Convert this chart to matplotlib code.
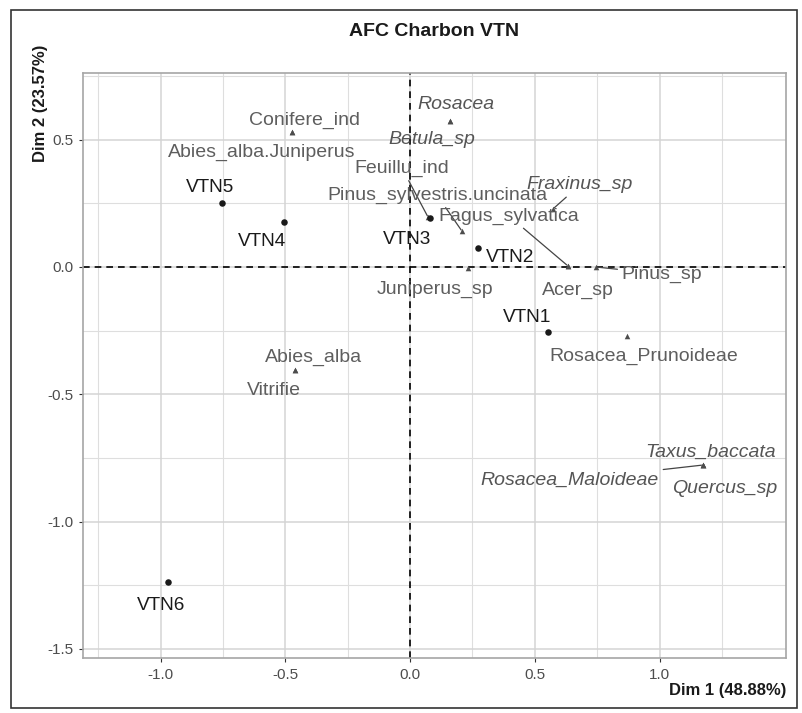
import matplotlib
matplotlib.use("Agg")
import matplotlib.pyplot as plt
from matplotlib.patches import Rectangle

plt.rcParams['font.family'] = ['Liberation Sans', 'DejaVu Sans']

# ---- data ----
row_names = ["VTN1", "VTN2", "VTN3", "VTN4", "VTN5", "VTN6"]
row_dim1 = [0.553, 0.273, 0.080, -0.505, -0.754, -0.970]
row_dim2 = [-0.255, 0.075, 0.193, 0.177, 0.251, -1.238]

col_names = ["Conifere_ind", "Abies_alba.Juniperus", "Rosacea", "Betula_sp",
             "Feuillu_ind", "Pinus_sylvestris.uncinata", "Fagus_sylvatica",
             "Acer_sp", "Fraxinus_sp", "Pinus_sp", "Juniperus_sp",
             "Rosacea_Prunoideae", "Abies_alba", "Vitrifie", "Taxus_baccata",
             "Quercus_sp", "Rosacea_Maloideae"]
col_dim1 = [-0.473, -0.473, 0.160, 0.160, 0.072, 0.208, 0.633, 0.633, 0.573,
            0.745, 0.232, 0.870, -0.461, -0.461, 1.174, 1.174, 1.174]
col_dim2 = [0.530, 0.530, 0.574, 0.574, 0.196, 0.141, 0.004, 0.004, 0.228,
            0.000, -0.004, -0.271, -0.405, -0.405, -0.778, -0.778, -0.778]
col_italic = [False, False, True, True, False, False, False, False, True,
              False, False, False, False, False, True, True, True]

xticks = [-1.0, -0.5, 0.0, 0.5, 1.0]
yticks = [-1.5, -1.0, -0.5, 0.0, 0.5]
title = "AFC Charbon VTN"
xlabel = "Dim 1 (48.88%)"
ylabel = "Dim 2 (23.57%)"

# ---- layout (label offsets in pixels, repel-like) ----
row_off = {"VTN1": (-21, 14), "VTN2": (32, -10), "VTN3": (-23, -22),
           "VTN4": (-22, -20), "VTN5": (-12, 16), "VTN6": (-7, -23)}
col_off = {"Conifere_ind": (12, 12), "Abies_alba.Juniperus": (-30, -20),
           "Rosacea": (6, 16), "Betula_sp": (-18, -19),
           "Feuillu_ind": (-26, 49), "Pinus_sylvestris.uncinata": (-25, 36),
           "Fagus_sylvatica": (-59, 50), "Acer_sp": (10, -24),
           "Fraxinus_sp": (27, 24), "Pinus_sp": (66, -7),
           "Juniperus_sp": (-33, -21), "Rosacea_Prunoideae": (17, -20),
           "Abies_alba": (18, 13), "Vitrifie": (-21, -20),
           "Taxus_baccata": (8, 13), "Quercus_sp": (22, -23),
           "Rosacea_Maloideae": (-133, -15)}
with_segment = {"Feuillu_ind", "Pinus_sylvestris.uncinata", "Fagus_sylvatica",
                "Fraxinus_sp", "Pinus_sp", "Rosacea_Maloideae"}

W, H = 802, 713
fig = plt.figure(figsize=(W / 100, H / 100), dpi=100)
fig.patch.set_facecolor("white")
# outer frame
fig.patches.append(Rectangle((11 / W, 1 - 708 / H), (797 - 11) / W, (708 - 10) / H,
                             transform=fig.transFigure, fill=False,
                             edgecolor="#333333", linewidth=1.2))

L, R, T, B = 83, 786, 73, 658
ax = fig.add_axes([L / W, 1 - B / H, (R - L) / W, (B - T) / H])
ax.set_xlim(-1.311, 1.507)
ax.set_ylim(-1.536, 0.762)

# grid
for v in [-1.25, -0.75, -0.25, 0.25, 0.75, 1.25]:
    ax.axvline(v, color="#DEDEDE", lw=0.8, zorder=0)
for v in [-1.25, -0.75, -0.25, 0.25, 0.75]:
    ax.axhline(v, color="#DEDEDE", lw=0.8, zorder=0)
for v in xticks:
    ax.axvline(v, color="#D4D4D4", lw=1.1, zorder=0)
for v in yticks:
    ax.axhline(v, color="#D4D4D4", lw=1.1, zorder=0)

ax.axvline(0, color="black", lw=1.2, ls=(0, (4, 3)), zorder=1)
ax.axhline(0, color="black", lw=1.2, ls=(0, (4, 3)), zorder=1)

for s in ax.spines.values():
    s.set_color("#A6A6A6")
    s.set_linewidth(1.2)

ax.set_xticks(xticks)
ax.set_yticks(yticks)
ax.set_xticklabels([f"{t:.1f}" for t in xticks])
ax.set_yticklabels([f"{t:.1f}" for t in yticks])
ax.tick_params(axis="both", colors="#333333", labelcolor="#4D4D4D",
               labelsize=11, length=3, width=0.8, pad=4)

# points
ax.scatter(col_dim1, col_dim2, marker="^", s=16, color="#4D4D4D", zorder=3, linewidths=0)
ax.scatter(row_dim1, row_dim2, marker="o", s=22, color="#1A1A1A", zorder=4, linewidths=0)

fs = 14
for n, x, y in zip(row_names, row_dim1, row_dim2):
    dx, dy = row_off[n]
    ax.annotate(n, (x, y), xytext=(dx, dy), textcoords="offset pixels",
                ha="center", va="center", fontsize=fs * 0.98, color="#1A1A1A", zorder=5)

for n, x, y, it in zip(col_names, col_dim1, col_dim2, col_italic):
    dx, dy = col_off[n]
    kw = {}
    if n in with_segment:
        kw["arrowprops"] = dict(arrowstyle="-", color="#444444", lw=0.9,
                                shrinkA=1, shrinkB=1)
    ax.annotate(n, (x, y), xytext=(dx, dy), textcoords="offset pixels",
                ha="center", va="center", fontsize=fs,
                color="#5E5E5E" if not it else "#555555",
                style="italic" if it else "normal", zorder=5, **kw)

fig.text((L + R) / 2 / W, 1 - 31 / H, title, ha="center", va="center",
         fontsize=14, fontweight="bold", color="#1A1A1A")
fig.text(R / W, 1 - 690 / H, xlabel, ha="right", va="center",
         fontsize=12, fontweight="bold", color="#1A1A1A")
fig.text(40 / W, 1 - 45 / H, ylabel, ha="center", va="top", rotation=90,
         fontsize=12, fontweight="bold", color="#1A1A1A")

fig.savefig("out.png", dpi=100)
